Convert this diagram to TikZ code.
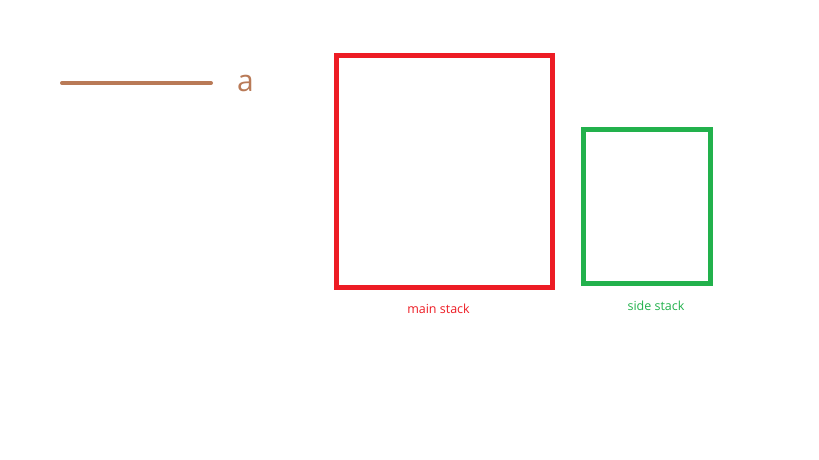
\documentclass[tikz,border=0pt]{standalone}
\usepackage{fontspec}
\setmainfont{Open Sans}
\usepackage{xcolor}
\usetikzlibrary{positioning}
\definecolor{stackred}{HTML}{ED1C24}
\definecolor{stackgreen}{HTML}{22B14C}
\definecolor{varbrown}{HTML}{B97A57}

\begin{document}
\begin{tikzpicture}[x=1pt,y=-1pt,
		stack/.style={draw,line width=5pt,minimum width=#1,inner sep=0pt},
		stacklabel/.style={inner sep=0pt,font=\fontsize{12.5}{14}\selectfont}]
		\useasboundingbox (0,0) rectangle (819,460);
		% variable
		\coordinate (a0) at (62,83);
		\coordinate (a1) at (211,83);
		\draw[varbrown,line width=4pt,line cap=round] (a0) -- (a1);
		\node[varbrown,inner sep=0pt,anchor=west,font=\fontsize{30}{32}\selectfont] (alabel) at (237,83.5) {a};
		% stacks
		\node[stack=216pt,stackred,minimum height=232pt] (main) at (444.5,171.5) {};
		\node[stack=127pt,stackgreen,minimum height=154pt] (side) at (647,206.5) {};
		
		\node[stacklabel,stackred,below=14pt of main.south,xshift=-6pt] (mainlabel) {main stack};
		\node[stacklabel,stackgreen,below=15pt of side.south,xshift=9pt] (sidelabel) {side stack};
	\end{tikzpicture}
\end{document}
